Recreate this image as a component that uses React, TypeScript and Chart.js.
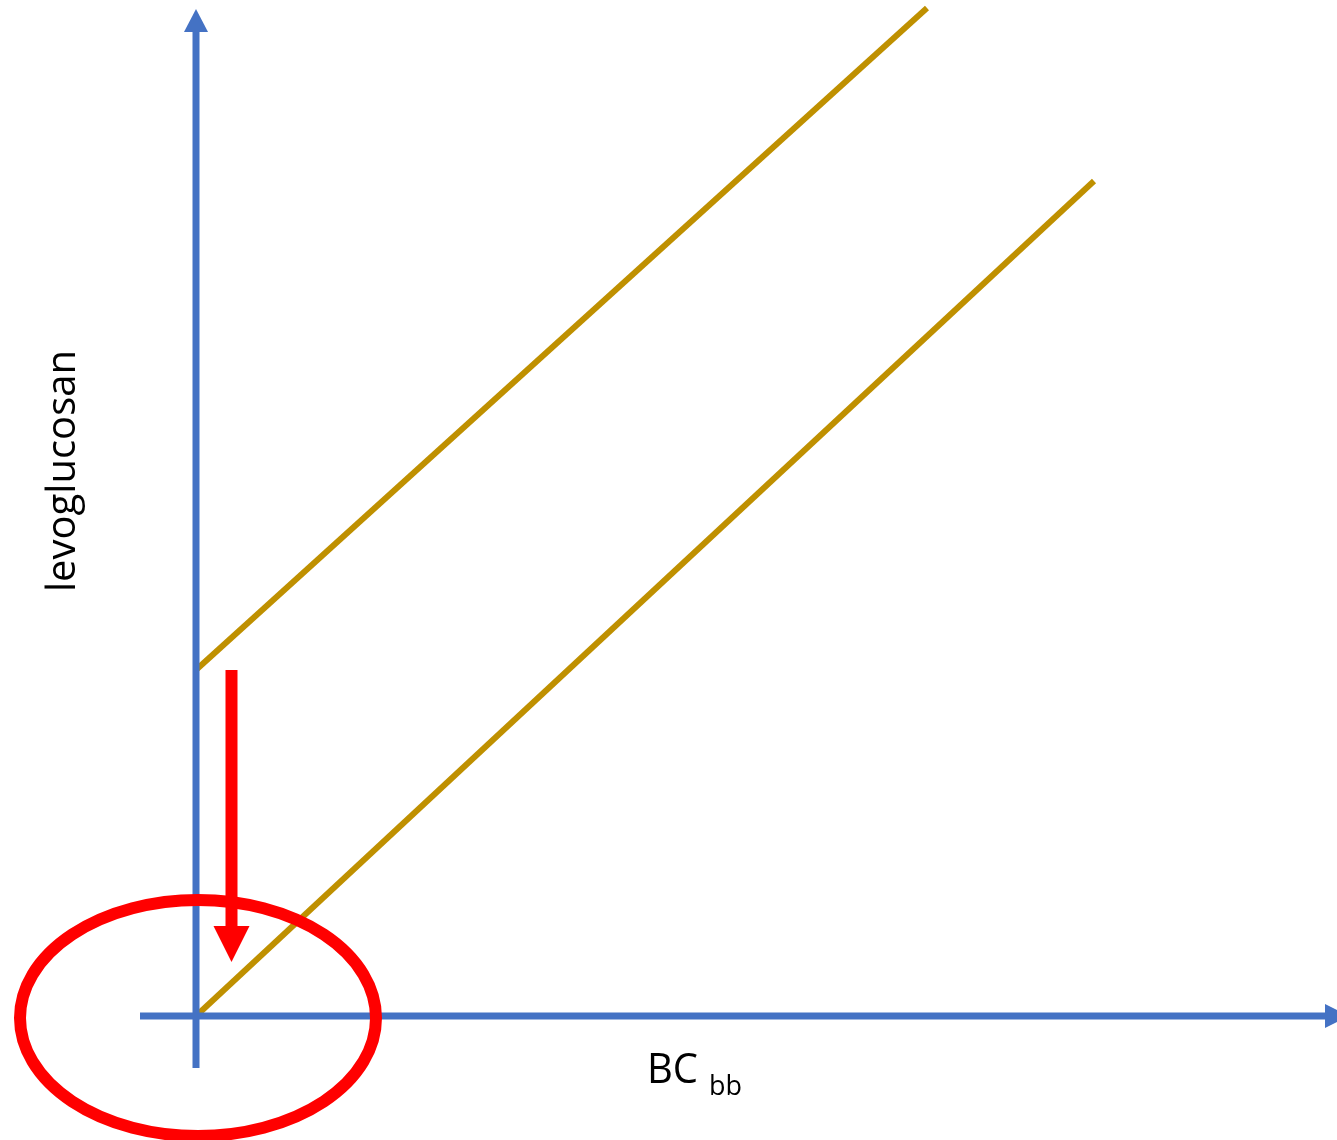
import React, { useEffect, useRef } from "react";
import { Chart, registerables } from "chart.js";

Chart.register(...registerables);

// Schematic units: origin at the axes crossing, 1 unit ≈ 100 px
const X_RANGE = [-1.96, 11.41];
const Y_RANGE = [-1.24, 10.16];

// Axis shafts (arrowheads drawn at the tips)
const yAxisLine = [{ x: 0, y: -0.52 }, { x: 0, y: 9.84 }];
const yAxisTip = { x: 0, y: 10.07 };
const xAxisLine = [{ x: -0.56, y: 0 }, { x: 11.29, y: 0 }];
const xAxisTip = { x: 11.53, y: 0 };

// Two regression-like lines
const upperLine = [{ x: 0.01, y: 3.47 }, { x: 7.31, y: 10.08 }];
const lowerLine = [{ x: 0.0, y: 0.0 }, { x: 8.98, y: 8.35 }];

// Red arrow (shaft and tip)
const redArrowShaft = [{ x: 0.355, y: 3.46 }, { x: 0.355, y: 0.88 }];
const redArrowTip = { x: 0.355, y: 0.54 };

// Red ellipse: center and radii
const ellipseCenter = { x: 0.02, y: -0.02 };
const ellipseRadii = { rx: 1.78, ry: 1.18 };

// Labels
const yLabel = { text: "levoglucosan", x: -1.21, y: 5.45 };
const xLabel = { text: "BC", sub: "bb", x: 4.51, y: -0.67 };

const BLUE = "#4472C4";
const GOLD = "#BF9000";
const RED = "#FF0000";

const decorPlugin = {
  id: "decor",
  afterDatasetsDraw(chart: any) {
    const { ctx, scales } = chart;
    const xs = scales.x;
    const ys = scales.y;
    const px = (v: number) => xs.getPixelForValue(v);
    const py = (v: number) => ys.getPixelForValue(v);

    const head = (from: { x: number; y: number }, tip: { x: number; y: number }, len: number, half: number, color: string) => {
      const fx = px(from.x), fy = py(from.y), tx = px(tip.x), ty = py(tip.y);
      const ang = Math.atan2(ty - fy, tx - fx);
      const bx = tx - Math.cos(ang) * len;
      const by = ty - Math.sin(ang) * len;
      ctx.save();
      ctx.fillStyle = color;
      ctx.beginPath();
      ctx.moveTo(tx, ty);
      ctx.lineTo(bx + Math.sin(ang) * half, by - Math.cos(ang) * half);
      ctx.lineTo(bx - Math.sin(ang) * half, by + Math.cos(ang) * half);
      ctx.closePath();
      ctx.fill();
      ctx.restore();
    };

    head(yAxisLine[0], yAxisTip, 23, 12, BLUE);
    head(xAxisLine[0], xAxisTip, 24, 12, BLUE);
    head(redArrowShaft[0], redArrowTip, 36, 18, RED);

    // ellipse
    const cx = px(ellipseCenter.x);
    const cy = py(ellipseCenter.y);
    const rx = Math.abs(px(ellipseCenter.x + ellipseRadii.rx) - cx);
    const ry = Math.abs(py(ellipseCenter.y + ellipseRadii.ry) - cy);
    ctx.save();
    ctx.strokeStyle = RED;
    ctx.lineWidth = 12;
    ctx.beginPath();
    ctx.ellipse(cx, cy, rx, ry, 0, 0, Math.PI * 2);
    ctx.stroke();
    ctx.restore();

    // y label (rotated)
    ctx.save();
    ctx.fillStyle = "#000000";
    ctx.font = '40px "Open Sans"';
    ctx.textAlign = "center";
    ctx.textBaseline = "alphabetic";
    ctx.translate(px(yLabel.x), py(yLabel.y));
    ctx.rotate(-Math.PI / 2);
    ctx.fillText(yLabel.text, 0, 0, 245);
    ctx.restore();

    // x label with subscript
    ctx.save();
    ctx.fillStyle = "#000000";
    ctx.textAlign = "left";
    ctx.textBaseline = "alphabetic";
    ctx.font = '42px "Open Sans"';
    const bx = px(xLabel.x);
    const by = py(xLabel.y);
    ctx.fillText(xLabel.text, bx, by, 51);
    ctx.font = '27px "Open Sans"';
    ctx.fillText(xLabel.sub, bx + 62, by + 12, 33);
    ctx.restore();
  },
};

export default function App() {
  const ref = useRef<HTMLCanvasElement | null>(null);

  useEffect(() => {
    document.body.style.margin = "0";
    const canvas = ref.current;
    if (!canvas) return;
    const line = (data: any[], color: string, width: number) => ({
      data,
      showLine: true,
      borderColor: color,
      backgroundColor: color,
      borderWidth: width,
      pointRadius: 0,
      borderCapStyle: "butt",
      fill: false,
    });
    const chart = new Chart(canvas, {
      type: "scatter",
      data: {
        datasets: [
          line(yAxisLine, BLUE, 7),
          line(xAxisLine, BLUE, 7),
          line(upperLine, GOLD, 6),
          line(lowerLine, GOLD, 6),
          line(redArrowShaft, RED, 12),
        ] as any,
      },
      options: {
        animation: false,
        responsive: false,
        maintainAspectRatio: false,
        layout: { padding: 0 },
        plugins: { legend: { display: false }, tooltip: { enabled: false } },
        scales: {
          x: { type: "linear", display: false, min: X_RANGE[0], max: X_RANGE[1] },
          y: { type: "linear", display: false, min: Y_RANGE[0], max: Y_RANGE[1] },
        },
      } as any,
      plugins: [decorPlugin],
    });
    return () => chart.destroy();
  }, []);

  return (
    <div style={{ width: 1337, height: 1140, background: "#ffffff" }}>
      <canvas ref={ref} width={1337} height={1140} style={{ display: "block" }} />
    </div>
  );
}
